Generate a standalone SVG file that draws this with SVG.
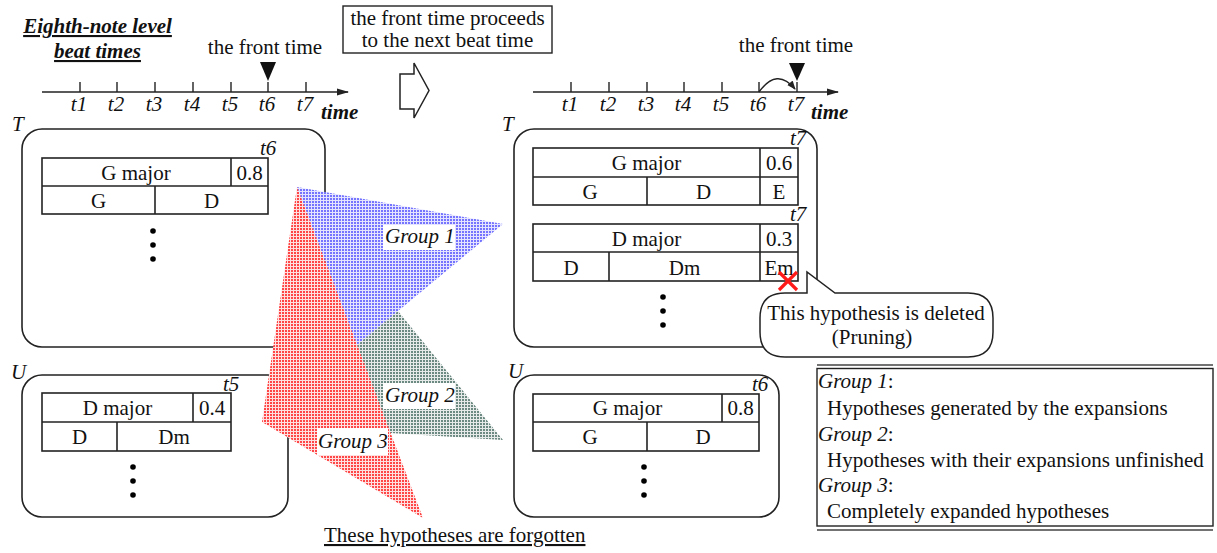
<svg xmlns="http://www.w3.org/2000/svg" width="1217" height="553" viewBox="0 0 1217 553" font-family="Liberation Serif, Times New Roman, serif">
  <defs>
    <style>
      text { font-family: "Liberation Serif", "Times New Roman", serif; font-size: 21px; fill: #111; }
      .it { font-style: italic; }
      .bi { font-style: italic; font-weight: bold; }
      .mid { text-anchor: middle; }
      .frame { fill: #fff; stroke: #222; stroke-width: 1.6; }
      .cell { fill: none; stroke: #222; stroke-width: 1.6; }
      .axis { stroke: #222; stroke-width: 1.6; fill: none; }
      .tick { stroke: #222; stroke-width: 1.4; }
      .dot { fill: #000; }
      .lbl-bg { fill: #fff; }
    </style>
    <marker id="axhead" markerUnits="userSpaceOnUse" markerWidth="12" markerHeight="8" refX="11" refY="4" orient="auto">
      <path d="M0,0.5 L12,4 L0,7.5 z" fill="#222"/>
    </marker>
    <marker id="archead" markerUnits="userSpaceOnUse" markerWidth="9" markerHeight="8" refX="8" refY="4" orient="auto">
      <path d="M0,0.5 L9,4 L0,7.5 z" fill="#222"/>
    </marker>
    <!-- fine halftone fills for the three groups -->
    <pattern id="dotsBlue" width="3" height="3" patternUnits="userSpaceOnUse">
      <rect width="3" height="3" fill="#e4e4ff"/>
      <rect width="2" height="2" fill="#7474ff"/>
    </pattern>
    <pattern id="dotsGreen" width="3" height="3" patternUnits="userSpaceOnUse">
      <rect width="3" height="3" fill="#e6ebe9"/>
      <rect width="2" height="2" fill="#6d8a82"/>
    </pattern>
    <pattern id="dotsRed" width="3" height="3" patternUnits="userSpaceOnUse">
      <rect width="3" height="3" fill="#ffe0e0"/>
      <rect width="2" height="2" fill="#ff4646"/>
    </pattern>
  </defs>

  <!-- heading -->
  <g id="heading">
    <text class="bi mid" x="97.5" y="33" text-decoration="underline">Eighth-note level</text>
    <text class="bi mid" x="97.5" y="58" text-decoration="underline">beat times</text>
  </g>

  <!-- beat-time axis before the step -->
  <g id="timeline-before">
    <line class="axis" x1="42" y1="92" x2="348" y2="92" marker-end="url(#axhead)"/>
    <g class="tick">
      <line x1="80" y1="82" x2="80" y2="92"/>
      <line x1="117" y1="82" x2="117" y2="92"/>
      <line x1="155" y1="82" x2="155" y2="92"/>
      <line x1="193" y1="82" x2="193" y2="92"/>
      <line x1="231" y1="82" x2="231" y2="92"/>
      <line x1="268" y1="82" x2="268" y2="92"/>
      <line x1="306" y1="82" x2="306" y2="92"/>
    </g>
    <text class="it mid" x="79" y="111">t1</text>
    <text class="it mid" x="116" y="111">t2</text>
    <text class="it mid" x="154" y="111">t3</text>
    <text class="it mid" x="192" y="111">t4</text>
    <text class="it mid" x="230" y="111">t5</text>
    <text class="it mid" x="267" y="111">t6</text>
    <text class="it mid" x="305" y="111">t7</text>
    <text class="bi" x="321" y="119">time</text>
    <text class="mid" x="265" y="54">the front time</text>
    <path d="M260,62 L276,62 L268,81 z" fill="#111"/>
  </g>

  <!-- beat-time axis after the step -->
  <g id="timeline-after">
    <line class="axis" x1="533" y1="92" x2="838" y2="92" marker-end="url(#axhead)"/>
    <g class="tick">
      <line x1="571" y1="82" x2="571" y2="92"/>
      <line x1="609" y1="82" x2="609" y2="92"/>
      <line x1="647" y1="82" x2="647" y2="92"/>
      <line x1="684" y1="82" x2="684" y2="92"/>
      <line x1="722" y1="82" x2="722" y2="92"/>
      <line x1="759" y1="82" x2="759" y2="92"/>
      <line x1="797" y1="82" x2="797" y2="92"/>
    </g>
    <text class="it mid" x="570" y="111">t1</text>
    <text class="it mid" x="608" y="111">t2</text>
    <text class="it mid" x="646" y="111">t3</text>
    <text class="it mid" x="683" y="111">t4</text>
    <text class="it mid" x="721" y="111">t5</text>
    <text class="it mid" x="758" y="111">t6</text>
    <text class="it mid" x="796" y="111">t7</text>
    <text class="bi" x="811" y="119">time</text>
    <text class="mid" x="796" y="52">the front time</text>
    <path d="M789,63 L805,63 L797,81 z" fill="#111"/>
  </g>

  <!-- note above the step arrow -->
  <g id="proceed-note">
    <rect x="343" y="6" width="209" height="47" fill="#fff" stroke="#222" stroke-width="1.4"/>
    <text class="mid" x="447.5" y="25">the front time proceeds</text>
    <text class="mid" x="447.5" y="47">to the next beat time</text>
  </g>

  <!-- connectors -->
  <g id="connectors">
    <path id="step-arrow" d="M400,74 L414,74 L414,63 L429,90.5 L414,118 L414,109 L400,109 z" fill="#fff" stroke="#222" stroke-width="1.5"/>
    <path id="front-advance" d="M759,92 Q777,67 795,89" fill="none" stroke="#222" stroke-width="1.4" marker-end="url(#archead)"/>
  </g>

  <!-- hypothesis set T at t6 -->
  <g id="set-T-t6">
    <text class="it" x="12" y="131">T</text>
    <rect class="frame" x="22" y="129" width="303" height="218" rx="20"/>
    <rect class="cell" x="42" y="158" width="226" height="56"/>
    <line class="cell" x1="42" y1="186" x2="268" y2="186"/>
    <line class="cell" x1="231" y1="158" x2="231" y2="186"/>
    <line class="cell" x1="155" y1="186" x2="155" y2="214"/>
    <text class="mid" x="136" y="180">G major</text>
    <text class="mid" x="249.5" y="180">0.8</text>
    <text class="mid" x="98.5" y="208">G</text>
    <text class="mid" x="211.5" y="208">D</text>
    <text class="it" x="260" y="155">t6</text>
    <circle class="dot" cx="153" cy="231" r="2.8"/>
    <circle class="dot" cx="153" cy="245" r="2.8"/>
    <circle class="dot" cx="153" cy="259" r="2.8"/>
  </g>

  <!-- hypothesis set U at t6 -->
  <g id="set-U-t6">
    <text class="it" x="11" y="379">U</text>
    <rect class="frame" x="22" y="375" width="266" height="142" rx="20"/>
    <rect class="cell" x="42" y="393" width="189" height="58"/>
    <line class="cell" x1="42" y1="422" x2="231" y2="422"/>
    <line class="cell" x1="193" y1="393" x2="193" y2="422"/>
    <line class="cell" x1="117" y1="422" x2="117" y2="451"/>
    <text class="mid" x="117.5" y="415">D major</text>
    <text class="mid" x="212" y="415">0.4</text>
    <text class="mid" x="79.5" y="444">D</text>
    <text class="mid" x="174" y="444">Dm</text>
    <text class="it" x="223" y="391">t5</text>
    <circle class="dot" cx="133" cy="467" r="2.8"/>
    <circle class="dot" cx="133" cy="481" r="2.8"/>
    <circle class="dot" cx="133" cy="495" r="2.8"/>
  </g>

  <!-- hypothesis set T at t7 -->
  <g id="set-T-t7">
    <text class="it" x="502" y="131">T</text>
    <rect class="frame" x="514" y="129" width="303" height="218" rx="20"/>
    <rect class="cell" x="533" y="148" width="265" height="57"/>
    <line class="cell" x1="533" y1="177" x2="798" y2="177"/>
    <line class="cell" x1="760" y1="148" x2="760" y2="205"/>
    <line class="cell" x1="647" y1="177" x2="647" y2="205"/>
    <text class="mid" x="646.5" y="170">G major</text>
    <text class="mid" x="779" y="170">0.6</text>
    <text class="mid" x="590" y="199">G</text>
    <text class="mid" x="703.5" y="199">D</text>
    <text class="mid" x="779" y="199">E</text>
    <text class="it" x="790" y="145">t7</text>
    <rect class="cell" x="533" y="224" width="265" height="57"/>
    <line class="cell" x1="533" y1="252" x2="798" y2="252"/>
    <line class="cell" x1="760" y1="224" x2="760" y2="281"/>
    <line class="cell" x1="609" y1="252" x2="609" y2="281"/>
    <text class="mid" x="646.5" y="246">D major</text>
    <text class="mid" x="779" y="246">0.3</text>
    <text class="mid" x="571" y="275">D</text>
    <text class="mid" x="684.5" y="275">Dm</text>
    <text class="mid" x="779" y="275">Em</text>
    <text class="it" x="790" y="221">t7</text>
    <circle class="dot" cx="663" cy="297" r="2.8"/>
    <circle class="dot" cx="663" cy="311" r="2.8"/>
    <circle class="dot" cx="663" cy="325" r="2.8"/>
    <path d="M779,272 L797,290 M797,272 L779,290" stroke="#ff1a1a" stroke-width="3.2" fill="none"/>
  </g>

  <!-- hypothesis set U at t7 -->
  <g id="set-U-t7">
    <text class="it" x="508" y="378">U</text>
    <rect class="frame" x="514" y="375" width="265" height="142" rx="20"/>
    <rect class="cell" x="533" y="394" width="226" height="57"/>
    <line class="cell" x1="533" y1="422" x2="759" y2="422"/>
    <line class="cell" x1="722" y1="394" x2="722" y2="422"/>
    <line class="cell" x1="647" y1="422" x2="647" y2="451"/>
    <text class="mid" x="627.5" y="415">G major</text>
    <text class="mid" x="740.5" y="415">0.8</text>
    <text class="mid" x="590" y="444">G</text>
    <text class="mid" x="703" y="444">D</text>
    <text class="it" x="752" y="391">t6</text>
    <circle class="dot" cx="644" cy="467" r="2.8"/>
    <circle class="dot" cx="644" cy="481" r="2.8"/>
    <circle class="dot" cx="644" cy="495" r="2.8"/>
  </g>

  <!-- hypothesis groups -->
  <g id="group-1">
    <polygon points="297,187 503,224 398,311 357,345" fill="url(#dotsBlue)"/>
  </g>
  <g id="group-2">
    <polygon points="398,311 503,440 390,433 357,345" fill="url(#dotsGreen)"/>
  </g>
  <g id="group-3">
    <polygon points="297,187 262,422 423,518" fill="url(#dotsRed)"/>
  </g>
  <g id="group-labels">
    <rect class="lbl-bg" x="383" y="225" width="72" height="25"/>
    <text class="it" x="385" y="243">Group 1</text>
    <rect class="lbl-bg" x="383" y="383" width="72" height="26"/>
    <text class="it" x="385" y="402">Group 2</text>
    <rect class="lbl-bg" x="317" y="428" width="71" height="27"/>
    <text class="it" x="318" y="448">Group 3</text>
  </g>

  <!-- pruning callout -->
  <g id="callout">
    <path d="M835,293 L968,293 Q993,293 993,318 L993,332 Q993,357 968,357 L785,357 Q760,357 760,332 L760,318 Q760,293 785,293 L807,293 L807,272 z" fill="#fff" stroke="#222" stroke-width="1.5"/>
    <text class="mid" x="876" y="320">This hypothesis is deleted</text>
    <text class="mid" x="872" y="344">(Pruning)</text>
  </g>

  <!-- legend -->
  <g id="legend">
    <line x1="817" y1="365" x2="1213" y2="365" stroke="#444" stroke-width="1.4"/>
    <rect x="817" y="368.5" width="396" height="157.5" fill="none" stroke="#222" stroke-width="1.4"/>
    <line x1="817" y1="530" x2="1213" y2="530" stroke="#444" stroke-width="1.4"/>
    <text x="818" y="388"><tspan class="it">Group 1</tspan>:</text>
    <text x="827" y="415">Hypotheses generated by the expansions</text>
    <text x="818" y="441"><tspan class="it">Group 2</tspan>:</text>
    <text x="827" y="467">Hypotheses with their expansions unfinished</text>
    <text x="818" y="492"><tspan class="it">Group 3</tspan>:</text>
    <text x="827" y="518">Completely expanded hypotheses</text>
  </g>

  <g id="forgotten-note">
    <text x="324" y="542" text-decoration="underline">These hypotheses are forgotten</text>
  </g>
</svg>
